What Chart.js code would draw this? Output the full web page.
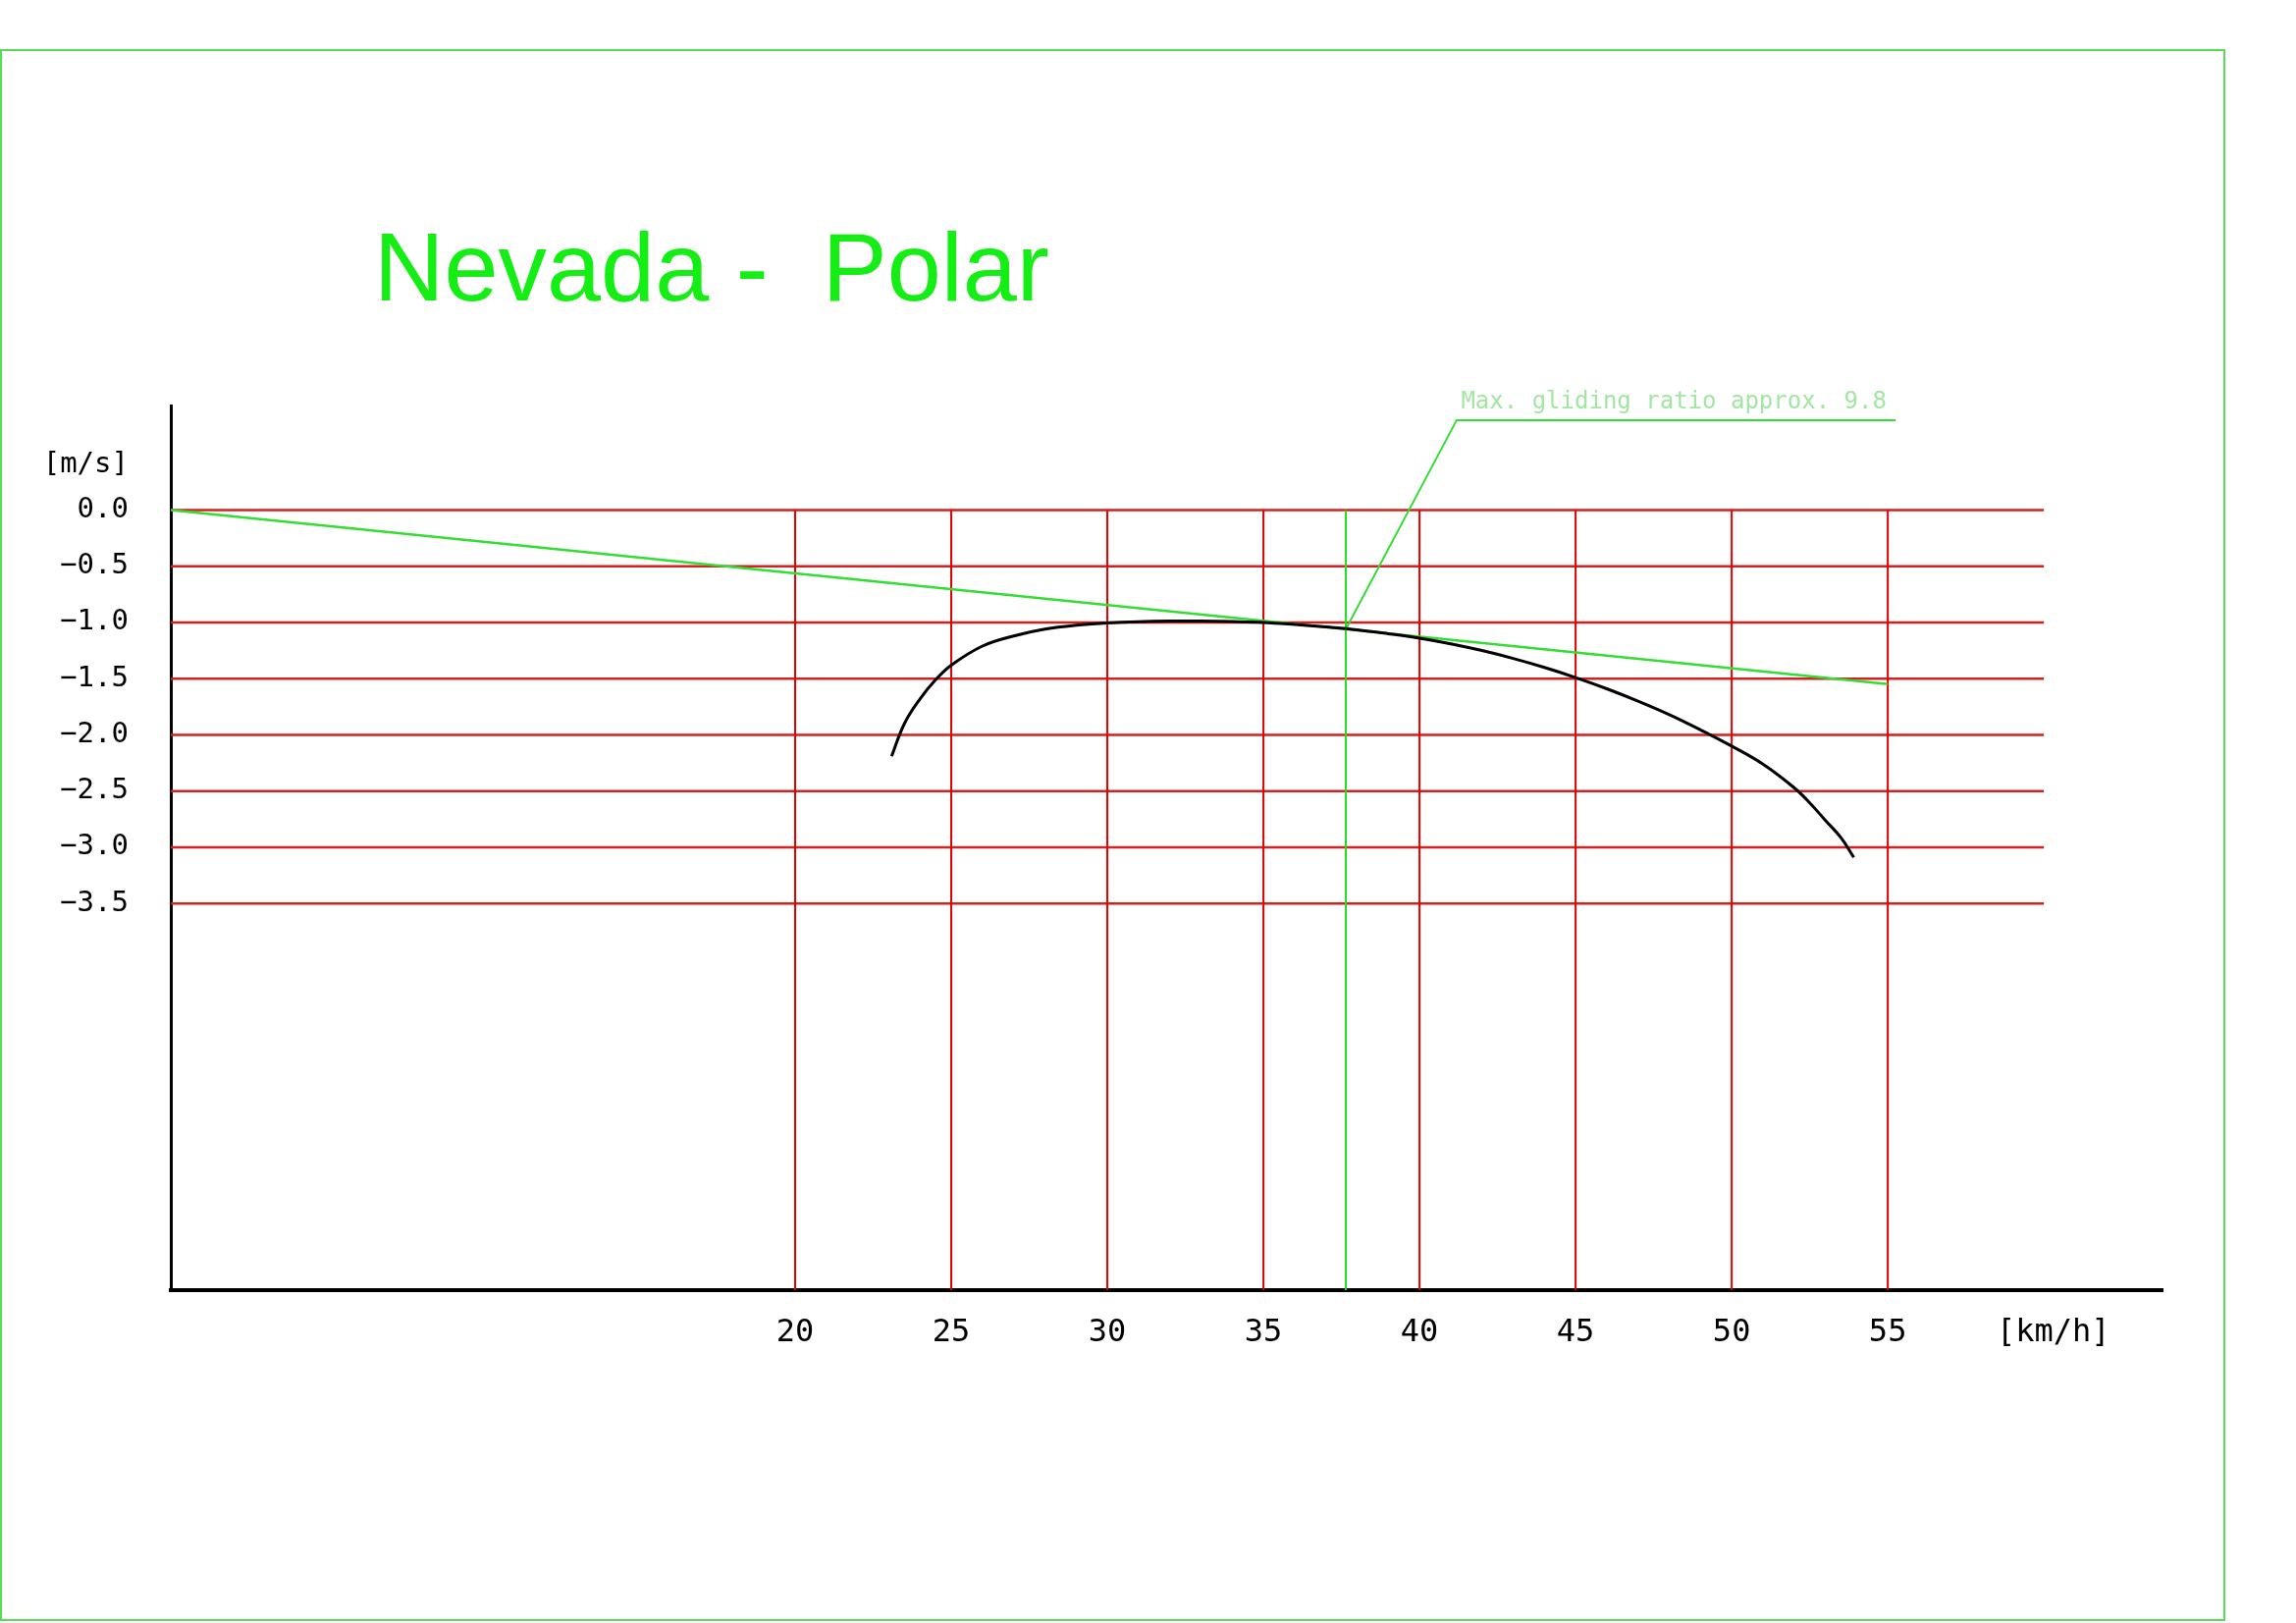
<!DOCTYPE html>
<html>
<head>
<meta charset="utf-8">
<title>Nevada - Polar</title>
<script src="https://cdn.jsdelivr.net/npm/chart.js@4.4.1/dist/chart.umd.min.js"></script>
<style>
  html, body { margin: 0; padding: 0; background: #fff; }
  canvas { display: block; }
</style>
</head>
<body>
<canvas id="polarChart" width="2339" height="1653"></canvas>
<script>
// speed polar of the Nevada
const speedKmh = [23.09, 23.5, 24, 24.5, 25, 26, 27, 28, 29, 30, 31, 32, 33, 34, 35, 36, 37, 38, 39, 40, 41, 42, 43, 44, 45, 46, 47, 48, 49, 50, 51, 52, 52.5, 53, 53.5, 53.91];
const sinkMs = [-2.19, -1.9, -1.68, -1.51, -1.38, -1.21, -1.12, -1.06, -1.025, -1.005, -0.993, -0.988, -0.988, -0.992, -1.0, -1.018, -1.04, -1.065, -1.1, -1.14, -1.19, -1.25, -1.32, -1.4, -1.49, -1.59, -1.7, -1.82, -1.955, -2.1, -2.26, -2.47, -2.605, -2.76, -2.915, -3.09];

// glide ratio tangent
const glideX = [0, 55];
const glideY = [0, -1.548];
const bestGlideSpeed = 37.64;
const leaderX = [37.64, 41.19, 55.25];
const leaderY = [-1.06, 0.80, 0.80];
const annotationText = 'Max. gliding ratio approx. 9.8';

// axes
const xTicks = [20, 25, 30, 35, 40, 45, 50, 55];
const xTickLabels = ['20', '25', '30', '35', '40', '45', '50', '55'];
const yTicks = [0, -0.5, -1.0, -1.5, -2.0, -2.5, -3.0, -3.5];
const yTickLabels = ['0.0', '\u22120.5', '\u22121.0', '\u22121.5', '\u22122.0', '\u22122.5', '\u22123.0', '\u22123.5'];
const xUnit = '[km/h]';
const yUnit = '[m/s]';
const xUnitPos = 60.3;
const yUnitPos = 0.4;
const xMin = 0, xMax = 63.8;
const yMin = -6.94, yMax = 0.93;
const gridRight = 60;

const toPoints = (xs, ys) => xs.map((x, i) => ({ x: x, y: ys[i] }));

// red grid as line segments, separated by gaps
const verticalGrid = [];
xTicks.forEach(t => {
  verticalGrid.push({ x: t, y: 0 }, { x: t, y: yMin }, { x: t, y: null });
});
const horizontalGrid = [];
yTicks.forEach(v => {
  horizontalGrid.push({ x: xMin, y: v }, { x: gridRight, y: v }, { x: gridRight, y: null });
});

const monoFont = '"DejaVu Sans Mono", "Liberation Mono", monospace';

const pagePlugin = {
  id: 'page',
  beforeDraw(chart) {
    const ctx = chart.ctx;
    ctx.save();
    ctx.fillStyle = '#ffffff';
    ctx.fillRect(0, 0, chart.width, chart.height);
    ctx.strokeStyle = '#55dd55';
    ctx.lineWidth = 2;
    ctx.strokeRect(1, 51, 2265, 1599);
    ctx.fillStyle = '#14ee14';
    ctx.font = '99px "Liberation Sans", Arial, sans-serif';
    ctx.textBaseline = 'alphabetic';
    ctx.fillText('Nevada -  Polar', 381, 306);
    ctx.restore();
  },
  afterDatasetsDraw(chart) {
    const ctx = chart.ctx;
    const xs = chart.scales.x, ys = chart.scales.y;
    ctx.save();
    ctx.fillStyle = '#a3e6a3';
    ctx.font = '24px ' + monoFont;
    ctx.textBaseline = 'alphabetic';
    ctx.fillText(annotationText, xs.getPixelForValue(41.33), ys.getPixelForValue(0.903));
    ctx.restore();
  }
};

new Chart(document.getElementById('polarChart').getContext('2d'), {
  type: 'scatter',
  data: {
    datasets: [
      {
        label: 'Polar',
        data: toPoints(speedKmh, sinkMs),
        showLine: true,
        borderColor: '#000000',
        borderWidth: 3,
        pointRadius: 0,
        tension: 0.4,
        order: 0
      },
      {
        label: 'Glide',
        data: toPoints(glideX, glideY),
        showLine: true,
        borderColor: '#33dd33',
        borderWidth: 2.5,
        pointRadius: 0,
        order: 1
      },
      {
        label: 'Best glide',
        data: [{ x: bestGlideSpeed, y: 0 }, { x: bestGlideSpeed, y: yMin }],
        showLine: true,
        borderColor: '#22dd22',
        borderWidth: 2,
        pointRadius: 0,
        order: 1
      },
      {
        label: 'Leader',
        data: toPoints(leaderX, leaderY),
        showLine: true,
        borderColor: '#33dd33',
        borderWidth: 2,
        pointRadius: 0,
        order: 1
      },
      {
        label: 'Grid v',
        data: verticalGrid,
        showLine: true,
        spanGaps: false,
        borderColor: '#e00000',
        borderWidth: 2,
        pointRadius: 0,
        order: 2
      },
      {
        label: 'Grid h',
        data: horizontalGrid,
        showLine: true,
        spanGaps: false,
        borderColor: '#d42020',
        borderWidth: 2.5,
        pointRadius: 0,
        order: 2
      }
    ]
  },
  options: {
    responsive: false,
    animation: false,
    devicePixelRatio: 1,
    layout: { padding: { left: 0, top: 413, right: 136, bottom: 0 } },
    plugins: {
      legend: { display: false },
      tooltip: { enabled: false }
    },
    scales: {
      x: {
        type: 'linear',
        min: xMin,
        max: xMax,
        grid: { display: false, drawTicks: false },
        border: { display: true, color: '#000000', width: 4 },
        afterBuildTicks: (scale) => {
          scale.ticks = xTicks.map(v => ({ value: v })).concat([{ value: xUnitPos }]);
        },
        afterFit: (scale) => { scale.height = 339; },
        ticks: {
          autoSkip: false,
          maxRotation: 0,
          padding: 24,
          color: '#000000',
          font: { family: monoFont, size: 32 },
          callback: (value, index) => index < xTickLabels.length ? xTickLabels[index] : xUnit
        }
      },
      y: {
        type: 'linear',
        min: yMin,
        max: yMax,
        grid: { display: false, drawTicks: false },
        border: { display: true, color: '#000000', width: 3 },
        afterBuildTicks: (scale) => {
          scale.ticks = yTicks.map(v => ({ value: v })).concat([{ value: yUnitPos }]);
        },
        afterFit: (scale) => { scale.width = 174; },
        ticks: {
          autoSkip: false,
          padding: 43,
          color: '#000000',
          font: { family: monoFont, size: 29 },
          callback: (value, index) => index < yTickLabels.length ? yTickLabels[index] : yUnit
        }
      }
    }
  },
  plugins: [pagePlugin]
});
</script>
</body>
</html>
